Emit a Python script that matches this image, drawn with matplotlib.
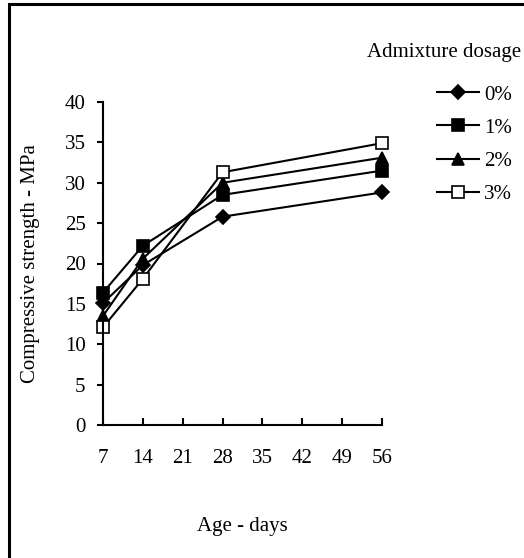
import numpy as np
import matplotlib
matplotlib.use('Agg')
import matplotlib.pyplot as plt
from matplotlib.patches import Rectangle

# data
days = [7, 14, 28, 56]
dosages = ['0%', '1%', '2%', '3%']
strength_0 = [15.1, 19.8, 25.8, 28.8]
strength_1 = [16.4, 22.2, 28.5, 31.5]
strength_2 = [13.5, 20.6, 30.0, 33.1]
strength_3 = [12.1, 18.1, 31.3, 34.9]
x_ticks = [7, 14, 21, 28, 35, 42, 49, 56]
y_ticks = [0, 5, 10, 15, 20, 25, 30, 35, 40]

plt.rcParams.update({
    'font.family': ['Liberation Serif', 'DejaVu Serif'],
    'font.size': 15,
})

W, H = 524, 558
fig = plt.figure(figsize=(W/100, H/100), dpi=100)
ax = fig.add_axes([103/W, (H-425)/H, (382-103)/W, (425-102)/H])

series = [strength_0, strength_1, strength_2, strength_3]
markers = [dict(marker='D', ms=7, mfc='black'),
           dict(marker='s', ms=8, mfc='black'),
           dict(marker='^', ms=8.5, mfc='black'),
           dict(marker='s', ms=8, mfc='white')]
for vals, lab, mk in zip(series, dosages, markers):
    ax.plot(days, vals, color='black', lw=1.5, mec='black', mew=1.2,
            label=lab, clip_on=False, **mk)

ax.set_xlim(7, 56)
ax.set_ylim(0, 40)
ax.set_xticks(x_ticks)
ax.set_yticks(y_ticks)
ax.spines['top'].set_visible(False)
ax.spines['right'].set_visible(False)
for s in ('left', 'bottom'):
    ax.spines[s].set_linewidth(1.5)
ax.tick_params(axis='x', direction='in', length=5, width=1.5, pad=17)
ax.tick_params(axis='y', direction='out', length=4.5, width=1.5, pad=8)

ax.set_ylabel('Compressive strength - MPa')
ax.yaxis.set_label_coords((31-103)/(382-103), 0.5)
ax.set_xlabel('Age - days')
ax.xaxis.set_label_coords(0.5, -(527-425)/(425-102))
ax.xaxis.label.set_va('center')
ax.yaxis.label.set_va('center')

fig.text(521/W, (H-52)/H, 'Admixture dosage', ha='right', va='center')
fig.legend(loc='upper right', bbox_to_anchor=(512/W, (H-85)/H),
           frameon=False, handlelength=2.0, handletextpad=0.25,
           labelspacing=0.65, borderaxespad=0, borderpad=0)

# outer frame (clipped on the right and bottom as in the original)
fig.patches.append(Rectangle((9/W, -0.1), 1.2, 1 - 4/H + 0.1,
                             transform=fig.transFigure, fill=False,
                             lw=2.2, ec='black'))

fig.savefig('out.png', dpi=100)
